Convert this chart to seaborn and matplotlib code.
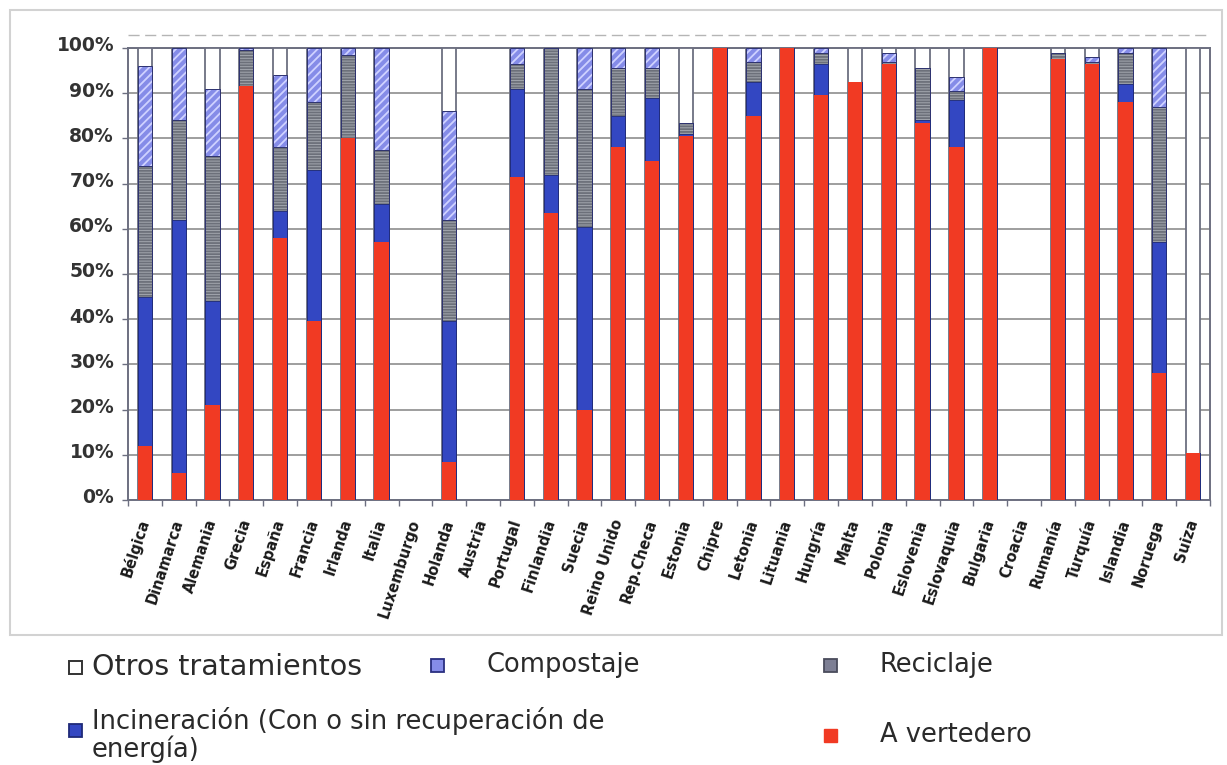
import numpy as np
import pandas as pd
import matplotlib
matplotlib.use("Agg")
import matplotlib.pyplot as plt
from matplotlib.patches import Rectangle
from matplotlib.transforms import ScaledTranslation
import seaborn as sns

# ---------------- data (percent of municipal waste) ----------------
paises = ["Bélgica", "Dinamarca", "Alemania", "Grecia", "España", "Francia",
          "Irlanda", "Italia", "Luxemburgo", "Holanda", "Austria", "Portugal",
          "Finlandia", "Suecia", "Reino Unido", "Rep.Checa", "Estonia", "Chipre",
          "Letonia", "Lituania", "Hungría", "Malta", "Polonia", "Eslovenia",
          "Eslovaquia", "Bulgaria", "Croacia", "Rumanía", "Turquía", "Islandia",
          "Noruega", "Suiza"]
vertedero    = [12, 6, 21, 91.5, 58, 39.5, 80, 57, 0, 8.5, 0, 71.5, 63.5, 20, 78, 75,
                80.5, 100, 85, 100, 89.5, 92.5, 96.5, 83.5, 78, 100, 0, 97.5, 96.5, 88, 28, 10.5]
incineracion = [33, 56, 23, 0, 6, 33.5, 0, 8.5, 0, 31, 0, 19.5, 8.5, 40.5, 7, 14,
                0.5, 0, 7.5, 0, 7, 0, 0, 0.5, 10.5, 0, 0, 0, 0, 4, 29, 0]
reciclaje    = [29, 22, 32, 8, 14, 15, 18.5, 12, 0, 22.5, 0, 5.5, 28, 30.5, 10.5, 6.5,
                2.5, 0, 4.5, 0, 2.5, 0, 0.5, 11.5, 2, 0, 0, 1.5, 0.5, 7, 30, 0]
compostaje   = [22, 16, 15, 0.5, 16, 12, 1.5, 22.5, 0, 24, 0, 3.5, 0, 9, 4.5, 4.5,
                0, 0, 3, 0, 1, 0, 2, 0, 3, 0, 0, 0, 1, 1, 13, 0]
otros        = [4, 0, 9, 0, 6, 0, 0, 0, 0, 14, 0, 0, 0, 0, 0, 0,
                16.5, 0, 0, 0, 0, 7.5, 1, 4.5, 6.5, 0, 0, 1, 2, 0, 0, 89.5]
yticks = list(range(0, 101, 10))
ytick_labels = [f"{v}%" for v in yticks]

legend_labels = {
    "otros": "Otros tratamientos",
    "comp": "Compostaje",
    "rec": "Reciclaje",
    "inc": "Incineración (Con o sin recuperación de\nenergía)",
    "ver": "A vertedero",
}

# ---------------- styling ----------------
RED = "#f13a23"
BLUE = "#3347c2"
COMP = "#858ce8"
COMP_H = "#cfd2ff"
REC = "#a2a6ae"
REC_H = "#6c707a"
EDGE = "#6c6f80"
SEP = "#2e3370"

sns.set_style("white")
plt.rcParams["font.family"] = ["DejaVu Sans"]
plt.rcParams["hatch.linewidth"] = 1.3

W, H = 1227, 765
fig = plt.figure(figsize=(W / 100, H / 100), dpi=100)
ax = fig.add_axes([128 / W, 1 - 500 / H, (1210 - 128) / W, (500 - 48) / H])

df = pd.DataFrame({"pais": paises, "ver": vertedero, "inc": incineracion,
                   "rec": reciclaje, "comp": compostaje, "otros": otros})
df["c_ver"] = df["ver"]
df["c_inc"] = df["c_ver"] + df["inc"]
df["c_rec"] = df["c_inc"] + df["rec"]
df["c_comp"] = df["c_rec"] + df["comp"]
df["c_otros"] = df["c_comp"] + df["otros"]

BW = 0.42
layers = [
    ("c_otros", "white", EDGE, None, 1.3, False),
    ("c_comp", COMP, COMP_H, "////", 0, True),
    ("c_rec", REC, REC_H, "------", 0, True),
    ("c_inc", BLUE, "#1f2a78", None, 0.6, False),
    ("c_ver", RED, RED, None, 0, False),
]
for col, face, edge, hatch, lw, outline in layers:
    sns.barplot(data=df, x="pais", y=col, order=paises, color=face, saturation=1,
                width=BW, edgecolor=edge, linewidth=lw, hatch=hatch,
                errorbar=None, ax=ax, zorder=3)
    if outline:
        sns.barplot(data=df, x="pais", y=col, order=paises, color=SEP, saturation=1,
                    width=BW, fill=False, linewidth=0.7, errorbar=None, ax=ax, zorder=3)

ax.set_ylim(0, 100)
ax.set_xlim(-0.5, len(paises) - 0.5)
ax.set_xlabel("")
ax.set_ylabel("")
ax.set_yticks(yticks)
ax.set_yticklabels(ytick_labels, fontsize=13.5, fontweight="bold", color="#333333")
ax.yaxis.grid(True, color="#8e8e8e", lw=1.2, zorder=0)
ax.xaxis.grid(False)
ax.set_axisbelow(True)
for s in ax.spines.values():
    s.set_visible(True)
    s.set_color(EDGE)
    s.set_linewidth(1.4)
ax.tick_params(axis="y", length=4, width=1, color=EDGE, pad=6, left=True)
for lab in ax.get_yticklabels():
    lab.set_transform(lab.get_transform() + ScaledTranslation(0, 3 / 72, fig.dpi_scale_trans))

ax.set_xticks(range(len(paises)))
ax.set_xticklabels(paises, rotation=72, ha="right", va="center",
                   rotation_mode="anchor", fontsize=10.5, fontweight="bold",
                   color="#1a1a1a")
ax.tick_params(axis="x", which="major", length=0, pad=14)
ax.set_xticks(np.arange(-0.5, len(paises), 1), minor=True)
ax.tick_params(axis="x", which="minor", length=4, width=1, color=EDGE, bottom=True)

# dashed line above the plot area
ax.axhline(102.9, ls=(0, (8, 4)), color="#b5b5b5", lw=1, clip_on=False)

# outer light frame around chart
fig.add_artist(Rectangle((10 / W, 1 - 635 / H), 1212 / W, 625 / H,
                         transform=fig.transFigure, fill=False,
                         ec="#d2d2d2", lw=1.5))

# ---------------- legend (manual, below the frame) ----------------
def px(x, y):
    return x / W, 1 - y / H

def marker(x, y, face, hatch=None, edge="#444444", lw=1.0, s=13):
    fig.add_artist(Rectangle(px(x - s / 2, y + s / 2), s / W, s / H,
                             transform=fig.transFigure, fc=face,
                             ec=edge, lw=lw, hatch=hatch))

FS = 18.5
TXT = "#2a2a2a"
marker(75, 667, "white", edge="#333333", lw=1.4)
fig.text(*px(92, 667), legend_labels["otros"], fontsize=20.5, color=TXT, va="center")
marker(437, 665, COMP, edge="#2a2f80", lw=1.3)
fig.text(*px(487, 665), legend_labels["comp"], fontsize=FS, color=TXT, va="center")
marker(830, 665, "#7d7f94", edge="#4a4c5c", lw=1.3)
fig.text(*px(880, 665), legend_labels["rec"], fontsize=FS, color=TXT, va="center")
marker(75, 730, BLUE, edge="#1f2a78", lw=1.3)
fig.text(*px(92, 707), legend_labels["inc"], fontsize=FS, color=TXT, va="top",
         linespacing=1.02)
marker(830, 735, RED, edge=RED, lw=1.0)
fig.text(*px(880, 735), legend_labels["ver"], fontsize=FS, color=TXT, va="center")

fig.savefig("out.png", dpi=100, facecolor="white")
